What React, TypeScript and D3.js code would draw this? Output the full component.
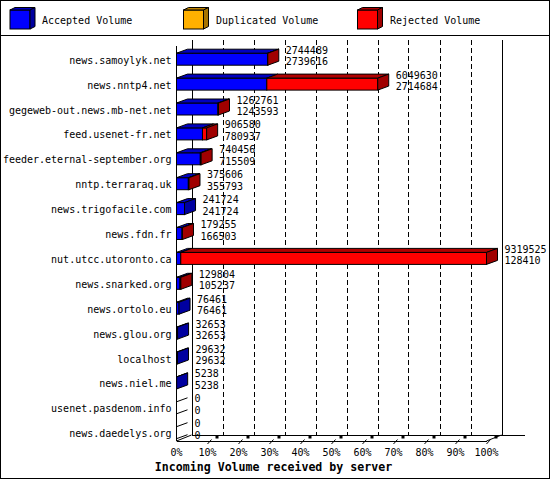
import React from "react";
import * as d3 from "d3";

const servers = [
  "news.samoylyk.net",
  "news.nntp4.net",
  "gegeweb-out.news.mb-net.net",
  "feed.usenet-fr.net",
  "feeder.eternal-september.org",
  "nntp.terraraq.uk",
  "news.trigofacile.com",
  "news.fdn.fr",
  "nut.utcc.utoronto.ca",
  "news.snarked.org",
  "news.ortolo.eu",
  "news.glou.org",
  "localhost",
  "news.niel.me",
  "usenet.pasdenom.info",
  "news.daedelys.org",
];
const totalVolume = [
  2744489, 6049630, 1262761, 906580, 740456, 375606, 241724, 179255, 9319525,
  129804, 76461, 32653, 29632, 5238, 0, 0,
];
const acceptedVolume = [
  2739616, 2714684, 1243593, 780937, 715509, 355793, 241724, 166503, 128410,
  105237, 76461, 32653, 29632, 5238, 0, 0,
];
const duplicatedVolume = [0, 0, 0, 0, 0, 0, 0, 0, 0, 0, 0, 0, 0, 0, 0, 0];
const percentTicks = [0, 10, 20, 30, 40, 50, 60, 70, 80, 90, 100];
const legendLabels = ["Accepted Volume", "Duplicated Volume", "Rejected Volume"];
const axisTitle = "Incoming Volume received by server";

const COLORS = [
  { front: "#0000ff", top: "#0000c0", side: "#0000a0" },
  { front: "#ffb000", top: "#c08400", side: "#a87400" },
  { front: "#ff0000", top: "#b00000", side: "#a00000" },
];

const FONT = "'DejaVu Sans Mono', 'Liberation Mono', monospace";

export default function App() {
  const W = 550;
  const H = 480;
  const x0 = 176.5;
  const x1 = 486.5;
  const axisDX = 15;
  const axisDY = 6;
  const barDX = 11;
  const barDY = 4;
  const frontBottom = 441;
  const backBottom = frontBottom - axisDY;
  const backTop = 40;
  const halfH = 6;

  const maxV = d3.max(totalVolume) as number;
  const x = d3.scaleLinear().domain([0, maxV]).range([x0, x1]);
  const xp = d3.scaleLinear().domain([0, 100]).range([x0, x1]);
  const y = d3
    .scalePoint<string>()
    .domain(servers)
    .range([59.2, 59.2 + 24.9 * (servers.length - 1)]);

  const bars: React.ReactNode[] = [];
  servers.forEach((s, i) => {
    const c = y(s) as number;
    const top = c - halfH;
    const bot = c + halfH;
    const acc = acceptedVolume[i];
    const dup = duplicatedVolume[i];
    const tot = totalVolume[i];
    const segs = [
      { a: 0, b: acc, col: COLORS[0] },
      { a: acc, b: acc + dup, col: COLORS[1] },
      { a: acc + dup, b: tot, col: COLORS[2] },
    ].filter((g) => g.b > g.a);
    if (segs.length === 0) {
      const xs = x(0);
      bars.push(
        <g key={s}>
          <path
            d={`M${xs},${top}L${xs + barDX},${top - barDY}`}
            stroke="#000"
            fill="none"
          />
          <path
            d={`M${xs},${bot}L${xs + barDX},${bot - barDY}`}
            stroke="#000"
            fill="none"
          />
        </g>
      );
    } else {
      segs.forEach((g, k) => {
        const xa = x(g.a);
        const xb = x(g.b);
        bars.push(
          <g key={s + k}>
            <rect
              x={xa}
              y={top}
              width={xb - xa}
              height={bot - top}
              fill={g.col.front}
              stroke="#000"
              strokeWidth={1}
            />
            <path
              d={`M${xa},${top}L${xa + barDX},${top - barDY}L${xb + barDX},${top - barDY}L${xb},${top}Z`}
              fill={g.col.top}
              stroke="#000"
              strokeWidth={1}
            />
            {k === segs.length - 1 && (
              <path
                d={`M${xb},${top}L${xb + barDX},${top - barDY}L${xb + barDX},${bot - barDY}L${xb},${bot}Z`}
                fill={g.col.side}
                stroke="#000"
                strokeWidth={1}
              />
            )}
          </g>
        );
      });
    }
    const tx = x(tot) + barDX + 7;
    bars.push(
      <g key={s + "lbl"} fontFamily={FONT} fontSize={10} fill="#000">
        <text x={tx} y={c - 9} dominantBaseline="central">
          {tot}
        </text>
        <text x={tx} y={c + 2.5} dominantBaseline="central">
          {acc}
        </text>
      </g>
    );
  });

  return (
    <svg
      width={W}
      height={H}
      style={{ position: "absolute", left: 0, top: 0, background: "#fff" }}
    >
      <rect x={0} y={0} width={W} height={H} fill="#fff" />
      <rect
        x={0.5}
        y={0.5}
        width={549}
        height={478}
        fill="none"
        stroke="#000"
        shapeRendering="crispEdges"
      />
      <line
        x1={0}
        x2={W}
        y1={35.5}
        y2={35.5}
        stroke="#000"
        shapeRendering="crispEdges"
      />

      {/* legend */}
      {legendLabels.map((l, i) => {
        const bx = [10, 183.5, 357.5][i];
        const tx = [42, 216, 390][i];
        const by = 10;
        const bw = 20;
        const bh = 19;
        const c = COLORS[i];
        return (
          <g key={l}>
            <rect x={bx} y={by} width={bw} height={bh} fill={c.front} stroke="#000" />
            <path
              d={`M${bx},${by}L${bx + 5},${by - 2.5}L${bx + bw + 5},${by - 2.5}L${bx + bw},${by}Z`}
              fill={c.top}
              stroke="#000"
            />
            <path
              d={`M${bx + bw},${by}L${bx + bw + 5},${by - 2.5}L${bx + bw + 5},${by + bh - 2.5}L${bx + bw},${by + bh}Z`}
              fill={c.side}
              stroke="#000"
            />
            <text
              x={tx}
              y={20}
              dominantBaseline="central"
              fontFamily={FONT}
              fontSize={10}
            >
              {l}
            </text>
          </g>
        );
      })}

      {/* back grid */}
      {percentTicks.map((p) => {
        const bx = Math.round(xp(p) + axisDX) + 0.5;
        const solid = p === 0 || p === 100;
        return (
          <line
            key={"g" + p}
            x1={bx}
            x2={bx}
            y1={backTop}
            y2={backBottom}
            stroke="#000"
            strokeDasharray={solid ? undefined : "5,3"}
            shapeRendering="crispEdges"
          />
        );
      })}
      <line x1={x0 + axisDX} x2={525} y1={backBottom + 0.5} y2={backBottom + 0.5} stroke="#000" shapeRendering="crispEdges" />
      <line x1={x0} x2={x0 + axisDX} y1={frontBottom} y2={backBottom} stroke="#000" />
      <line x1={x1} x2={x1 + axisDX} y1={frontBottom} y2={backBottom} stroke="#000" />
      <line x1={x0} x2={x0} y1={46} y2={frontBottom} stroke="#000" shapeRendering="crispEdges" />

      {/* bars */}
      {bars}

      <line x1={x0} x2={x1} y1={frontBottom + 0.5} y2={frontBottom + 0.5} stroke="#000" shapeRendering="crispEdges" />

      {/* ticks */}
      {percentTicks.map((p) => {
        const fx = xp(p);
        return (
          <g key={"t" + p}>
            {p > 0 && (
              <>
                <line x1={fx} y1={444} x2={fx + 4} y2={439.5} stroke="#000" />
                <rect x={fx + 8} y={435.5} width={3} height={3} fill="#000" />
              </>
            )}
            <text
              x={fx}
              y={452}
              textAnchor="middle"
              dominantBaseline="central"
              fontFamily={FONT}
              fontSize={10}
            >
              {p + "%"}
            </text>
          </g>
        );
      })}

      {/* category labels */}
      {servers.map((s) => (
        <text
          key={"c" + s}
          x={171.5}
          y={(y(s) as number) + 1}
          textAnchor="end"
          dominantBaseline="central"
          fontFamily={FONT}
          fontSize={10}
        >
          {s}
        </text>
      ))}

      <text
        x={273.5}
        y={467}
        textAnchor="middle"
        dominantBaseline="central"
        fontFamily={FONT}
        fontSize={11.6}
        fontWeight="bold"
      >
        {axisTitle}
      </text>
    </svg>
  );
}
